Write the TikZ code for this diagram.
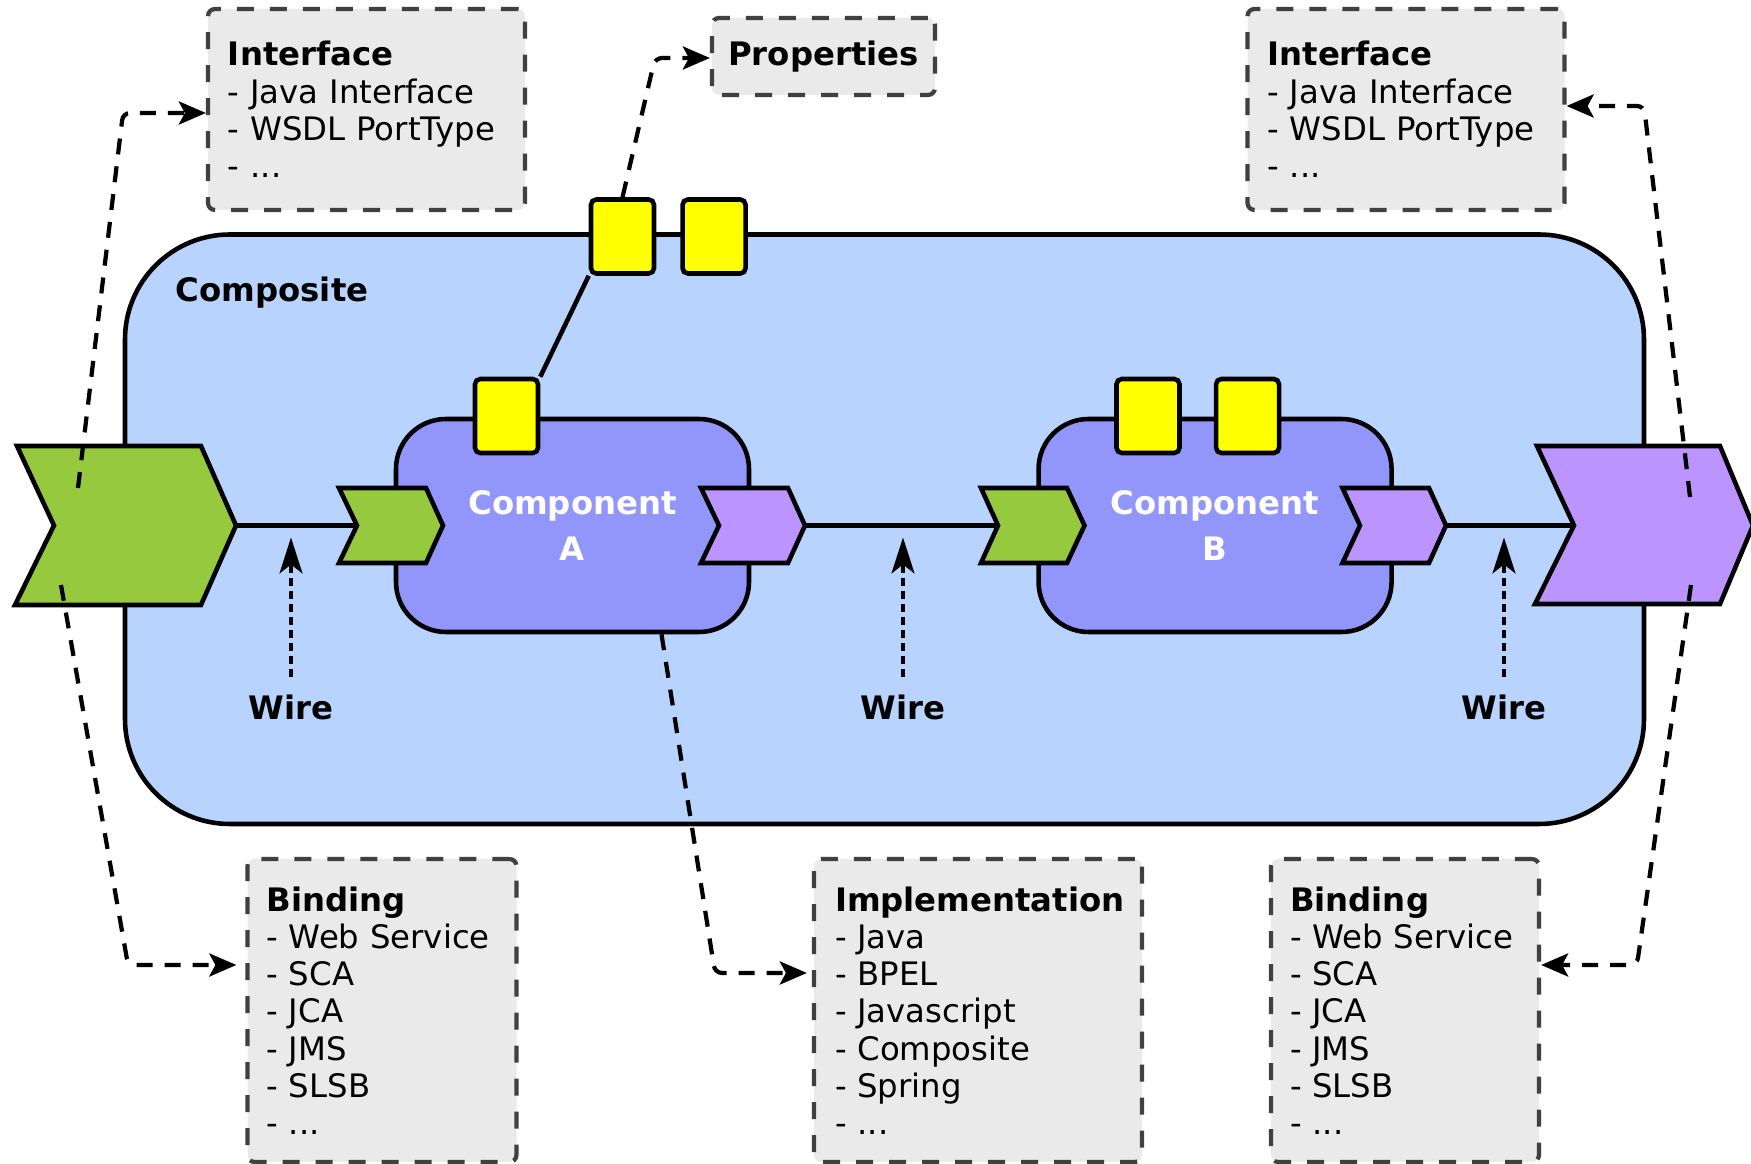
\documentclass[tikz,border=0pt]{standalone}
\usepackage{fontspec}
\setmainfont{DejaVu Sans}
\usepackage{xcolor}
\usetikzlibrary{arrows.meta,positioning,calc}

\definecolor{compositeblue}{RGB}{184,212,254}
\definecolor{componentblue}{RGB}{146,150,250}
\definecolor{portgreen}{RGB}{151,201,63}
\definecolor{portpurple}{RGB}{188,148,255}
\definecolor{propyellow}{RGB}{255,255,0}
\definecolor{boxgray}{RGB}{234,234,234}
\definecolor{boxline}{RGB}{64,64,64}

\begin{document}
\begin{tikzpicture}[>=Stealth, font=\fontsize{9.2pt}{10.6pt}\selectfont,
    composite/.style={draw, line width=1.3pt, fill=compositeblue, rounded corners=1.05cm},
    component/.style={draw, line width=1.3pt, fill=componentblue, rounded corners=0.5cm, minimum width=3.53cm, minimum height=2.13cm, text=white, font=\fontsize{9.2pt}{13.3pt}\selectfont\bfseries, align=center},
    prop/.style={draw, line width=1.3pt, fill=propyellow, rounded corners=1.5pt, minimum width=0.63cm, minimum height=0.74cm, inner sep=0pt},
    port/.style={draw, line width=1.3pt, line join=miter},
    wire/.style={line width=1.3pt},
    infobox/.style={draw=boxline, fill=boxgray, line width=1.2pt, dash pattern=on 0.17cm off 0.16cm, rounded corners=2pt, align=left, inner ysep=0pt},
    link/.style={->, >={Stealth[length=2.7mm, width=2.3mm, inset=0.6mm]}, line width=1.2pt, dash pattern=on 0.16cm off 0.12cm, rounded corners=2pt},
    wirearrow/.style={->, >={Stealth[length=3.6mm, width=2.3mm, inset=0.9mm]}, line width=0.9pt, dash pattern=on 0.08cm off 0.05cm, shorten <=0.18cm, shorten >=0.12cm},
    wirelabel/.style={font=\fontsize{9.2pt}{10.6pt}\selectfont\bfseries, inner sep=0pt, anchor=base}]
    \useasboundingbox (0,0) rectangle (17.51,-11.64);

    % Composite
    \node[composite, minimum width=15.19cm, minimum height=5.895cm] (composite) at (8.845,-5.2925) {};
    \node[anchor=base west, inner sep=0pt, font=\fontsize{9.2pt}{10.6pt}\selectfont\bfseries] (compname) at (1.75,-3.02) {Composite};

    % Components
    \node[component] (compa) at (5.725,-5.255) {Component\\A};
    \node[component, right=2.85cm of compa] (compb) {Component\\B};

    % Properties
    \node[prop] (ya) at (5.065,-4.16) {};
    \node[prop] (yc1) at (6.225,-2.365) {};
    \node[prop, right=0.24cm of yc1] (yc2) {};
    \node[prop] (yb1) at (11.48,-4.16) {};
    \node[prop, right=0.32cm of yb1] (yb2) {};
    \draw[wire] (ya.north east) -- (yc1.south west);

    % Services and references
    \filldraw[port, fill=portgreen] (0.17,-4.46) -- (2.01,-4.46) -- (2.36,-5.255) coordinate (gltip) -- (2.01,-6.05) -- (0.15,-6.05) -- (0.54,-5.255) -- cycle;
    \filldraw[port, fill=portgreen] (3.39,-4.88) -- (4.26,-4.88) -- (4.43,-5.255) -- (4.26,-5.63) -- (3.39,-5.63) -- (3.57,-5.255) coordinate (ganotch) -- cycle;
    \filldraw[port, fill=portpurple] (7.01,-4.88) -- (7.88,-4.88) -- (8.05,-5.255) coordinate (patip) -- (7.88,-5.63) -- (7.01,-5.63) -- (7.19,-5.255) -- cycle;
    \filldraw[port, fill=portgreen] (9.81,-4.88) -- (10.67,-4.88) -- (10.845,-5.255) -- (10.67,-5.63) -- (9.81,-5.63) -- (9.98,-5.255) coordinate (gbnotch) -- cycle;
    \filldraw[port, fill=portpurple] (13.425,-4.88) -- (14.29,-4.88) -- (14.46,-5.255) coordinate (pbtip) -- (14.29,-5.63) -- (13.425,-5.63) -- (13.6,-5.255) -- cycle;
    \filldraw[port, fill=portpurple] (15.37,-4.46) -- (17.20,-4.46) -- (17.53,-5.255) -- (17.20,-6.04) -- (15.35,-6.04) -- (15.74,-5.255) coordinate (prnotch) -- cycle;

    % Wires
    \draw[wire] (gltip) -- (ganotch);
    \draw[wire] (patip) -- (gbnotch);
    \draw[wire] (pbtip) -- (prnotch);
    \node[wirelabel] (wa) at (2.91,-7.20) {Wire};
    \node[wirelabel] (wb) at (9.03,-7.20) {Wire};
    \node[wirelabel] (wc) at (15.04,-7.20) {Wire};
    \draw[wirearrow] (wa.north) -- (wa.north |- gltip);
    \draw[wirearrow] (wb.north) -- (wb.north |- patip);
    \draw[wirearrow] (wc.north) -- (wc.north |- pbtip);

    % Notes
    \node[infobox, text width=2.77cm, inner xsep=0.2cm, minimum height=2.01cm] (ifleft) at (3.665,-1.095) {\textbf{Interface}\\- Java Interface\\- WSDL PortType\\- ...};
    \node[infobox, minimum width=2.23cm, minimum height=0.77cm] (props) at (8.235,-0.565) {\textbf{Properties}};
    \node[infobox, text width=2.77cm, inner xsep=0.2cm, minimum height=2.01cm] (ifright) at (14.06,-1.095) {\textbf{Interface}\\- Java Interface\\- WSDL PortType\\- ...};
    \node[infobox, text width=2.31cm, inner xsep=0.19cm, minimum height=3.03cm] (bindleft) at (3.82,-10.105) {\textbf{Binding}\\- Web Service\\- SCA\\- JCA\\- JMS\\- SLSB\\- ...};
    \node[infobox, text width=2.86cm, inner xsep=0.21cm, minimum height=3.03cm] (impl) at (9.78,-10.105) {\textbf{Implementation}\\- Java\\- BPEL\\- Javascript\\- Composite\\- Spring\\- ...};
    \node[infobox, text width=2.30cm, inner xsep=0.19cm, minimum height=3.03cm] (bindright) at (14.05,-10.105) {\textbf{Binding}\\- Web Service\\- SCA\\- JCA\\- JMS\\- SLSB\\- ...};

    % Links to notes
    \coordinate (glup) at (0.78,-4.88);
    \coordinate (gldown) at (0.61,-5.85);
    \coordinate (prup) at (16.90,-4.97);
    \coordinate (prdown) at (16.91,-5.85);
    \coordinate (bend1) at (1.23,-1.13);
    \coordinate (bend2) at (1.28,-9.65);
    \coordinate (bend3) at (7.15,-9.73);
    \coordinate (bend4) at (6.55,-0.58);
    \coordinate (bend5) at (16.44,-1.06);
    \coordinate (bend6) at (16.37,-9.65);
    \draw[link] (glup) -- (bend1) -- (bend1 -| ifleft.west);
    \draw[link, shorten >=0.09cm] (gldown) -- (bend2) -- (bend2 -| bindleft.west);
    \draw[link, shorten >=0.05cm] ([xshift=0.89cm]compa.south) -- (bend3) -- (bend3 -| impl.west);
    \draw[link] (yc1.north) -- (bend4) -- (bend4 -| props.west);
    \draw[link] (prup) -- (bend5) -- (bend5 -| ifright.east);
    \draw[link] (prdown) -- (bend6) -- (bend6 -| bindright.east);
\end{tikzpicture}
\end{document}
